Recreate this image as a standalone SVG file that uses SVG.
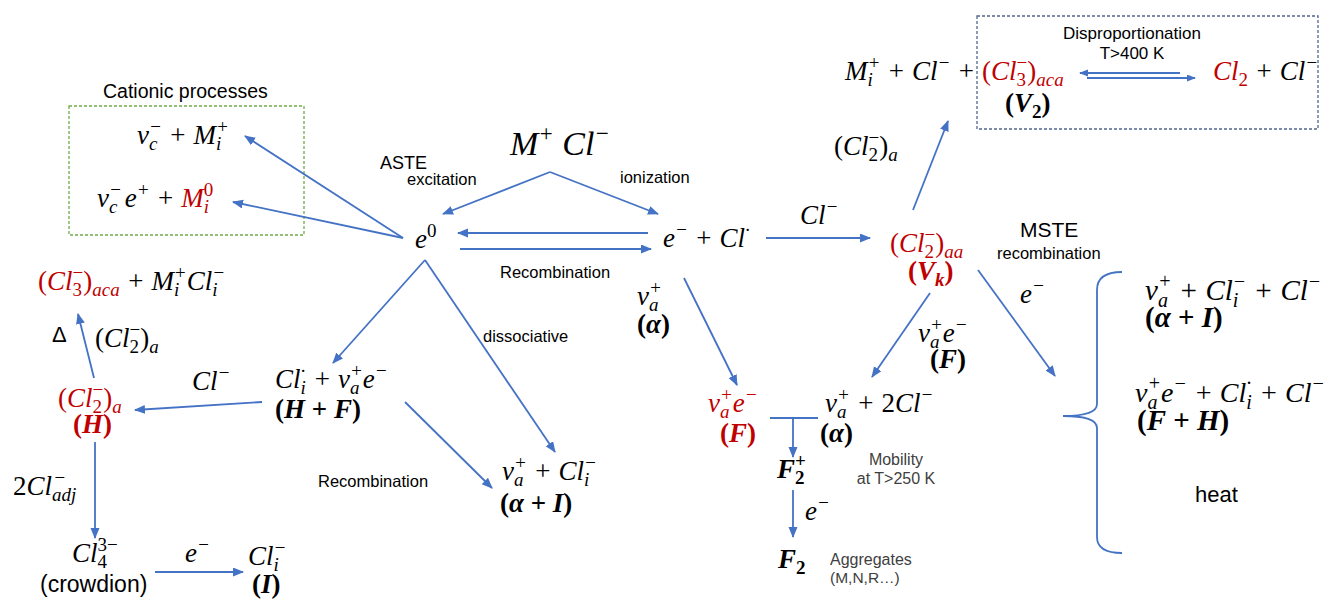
<svg xmlns="http://www.w3.org/2000/svg" width="1329" height="601" viewBox="0 0 1329 601">
<style>
.m{font-family:"Liberation Serif","DejaVu Serif",serif;font-style:italic;font-size:27px;fill:#000}
.big{font-size:34px}
.lg{font-size:29px}
.r{fill:#C00000}
.u{font-style:normal}
.b{font-weight:bold}
.sb{font-size:19px;baseline-shift:-6px}
.sp{font-size:19px;baseline-shift:11px}
.lg .sb{font-size:20px;baseline-shift:-7px}
.lg .sp{font-size:20px;baseline-shift:12px}
.big .sp{font-size:23px;baseline-shift:14px}
.s{font-family:"Liberation Sans",Arial,sans-serif;fill:#000}
.g{fill:#404040}
.c line,.c path{stroke:#4472C4;stroke-width:1.8;fill:none}
.box{fill:none;stroke-width:1.3}
</style>
<defs>
<marker id="ah" markerUnits="userSpaceOnUse" markerWidth="12" markerHeight="10" refX="10" refY="4.5" orient="auto"><path d="M0,0 L11,4.5 L0,9 z" fill="#4472C4"/></marker>
<marker id="ahs" markerUnits="userSpaceOnUse" markerWidth="10" markerHeight="8" refX="8" refY="3.5" orient="auto"><path d="M0,0 L9,3.5 L0,7 z" fill="#4472C4"/></marker>
</defs>

<g id="cationic">
<rect class="box" x="69" y="106" width="235" height="129" stroke="#70AD47" stroke-dasharray="3,2"/>
<text class="s" x="103" y="98" font-size="19.5">Cationic processes</text>
</g>
<g id="n-vcM"><text class="m" x="137" y="144">v<tspan class="sb">c</tspan><tspan class="sp" dx="-8.5">−</tspan> + M<tspan class="sb">i</tspan><tspan class="sp" dx="-5.3">+</tspan></text></g>
<g id="n-vceM0"><text class="m" x="97" y="207">v<tspan class="sb">c</tspan><tspan class="sp" dx="-8.5">−</tspan><tspan dx="3">e</tspan><tspan class="sp">+</tspan> + <tspan class="r">M</tspan><tspan class="sb r">i</tspan><tspan class="sp r u" dx="-5.3">0</tspan></text></g>

<g id="n-MCl"><text class="m big" x="510" y="155">M<tspan class="sp">+</tspan> Cl<tspan class="sp">−</tspan></text></g>
<g id="lbl-aste"><text class="s" x="380" y="169" font-size="18">ASTE</text><text class="s" x="407" y="185" font-size="16.5">excitation</text></g>
<g id="lbl-ion"><text class="s" x="620" y="183" font-size="16.5">ionization</text></g>
<g id="n-e0"><text class="m" x="415" y="248">e<tspan class="sp u">0</tspan></text></g>
<g id="lbl-rec1"><text class="s" x="500" y="278" font-size="16.5">Recombination</text></g>
<g id="n-eCl"><text class="m" x="663" y="247">e<tspan class="sp">−</tspan> + Cl<tspan class="sp">·</tspan></text></g>
<g id="lbl-cl1"><text class="m" x="800" y="224">Cl<tspan class="sp">−</tspan></text></g>
<g id="n-Vk">
<text class="m r" x="890" y="252"><tspan class="u">(</tspan>Cl<tspan class="sb u">2</tspan><tspan class="sp u" dx="-9.5">−</tspan><tspan class="u">)</tspan><tspan class="sb">aa</tspan></text>
<text class="m r b" x="908" y="280"><tspan class="u">(</tspan>V<tspan class="sb">k</tspan><tspan class="u">)</tspan></text>
</g>
<g id="lbl-cl2a"><text class="m" x="834" y="155"><tspan class="u">(</tspan>Cl<tspan class="sb u">2</tspan><tspan class="sp u" dx="-9.5">−</tspan><tspan class="u">)</tspan><tspan class="sb">a</tspan></text></g>

<g id="n-V2">
<rect class="box" x="977" y="16" width="341" height="113" stroke="#52658C" stroke-dasharray="3,2"/>
<text class="m" x="845" y="80">M<tspan class="sb">i</tspan><tspan class="sp" dx="-5.3">+</tspan> + Cl<tspan class="sp">−</tspan> + <tspan class="r"><tspan class="u">(</tspan>Cl<tspan class="sb u">3</tspan><tspan class="sp u" dx="-9.5">−</tspan><tspan class="u">)</tspan><tspan class="sb">aca</tspan></tspan></text>
<text class="m b" x="1005" y="112"><tspan class="u">(</tspan>V<tspan class="sb u">2</tspan><tspan class="u">)</tspan></text>
<text class="s" x="1132" y="39" font-size="17" text-anchor="middle">Disproportionation</text>
<text class="s" x="1132" y="59" font-size="17" text-anchor="middle">T&gt;400 K</text>
</g>
<g id="n-Cl2"><text class="m" x="1213" y="80"><tspan class="r">Cl<tspan class="sb u">2</tspan></tspan> + Cl<tspan class="sp">−</tspan></text></g>

<g id="lbl-mste"><text class="s" x="1020" y="237" font-size="21">MSTE</text><text class="s" x="997" y="259" font-size="16.5">recombination</text></g>
<g id="lbl-e3"><text class="m" x="1020" y="303">e<tspan class="sp">−</tspan></text></g>
<g id="n-r1">
<text class="m lg" x="1145" y="300">v<tspan class="sb">a</tspan><tspan class="sp" dx="-10">+</tspan> + Cl<tspan class="sb">i</tspan><tspan class="sp" dx="-5.6">−</tspan> + Cl<tspan class="sp">−</tspan></text>
<text class="m b lg" x="1145" y="327"><tspan class="u">(</tspan>α<tspan class="u"> + </tspan>I<tspan class="u">)</tspan></text>
</g>
<g id="n-r2">
<text class="m lg" x="1135" y="402" style="font-size:28px">v<tspan class="sb">a</tspan><tspan class="sp" dx="-10">+</tspan>e<tspan class="sp">−</tspan> + Cl<tspan class="sb">i</tspan><tspan class="sp" dx="-5.6">·</tspan><tspan dx="1"> + </tspan>Cl<tspan class="sp">−</tspan></text>
<text class="m b lg" x="1137" y="430"><tspan class="u">(</tspan>F<tspan class="u"> + </tspan>H<tspan class="u">)</tspan></text>
</g>
<g id="n-heat"><text class="s" x="1195" y="502" font-size="22">heat</text></g>

<g id="lbl-va"><text class="m" x="637" y="305">v<tspan class="sb">a</tspan><tspan class="sp" dx="-9.5">+</tspan></text><text class="m b" x="637" y="333"><tspan class="u">(</tspan>α<tspan class="u">)</tspan></text></g>
<g id="n-F">
<text class="m r" x="708" y="412">v<tspan class="sb">a</tspan><tspan class="sp" dx="-9.5">+</tspan>e<tspan class="sp">−</tspan></text>
<text class="m r b" x="720" y="442"><tspan class="u">(</tspan>F<tspan class="u">)</tspan></text>
</g>
<g id="n-alpha">
<text class="m" x="825" y="412">v<tspan class="sb">a</tspan><tspan class="sp" dx="-9.5">+</tspan> + <tspan class="u">2</tspan>Cl<tspan class="sp">−</tspan></text>
<text class="m b" x="820" y="442"><tspan class="u">(</tspan>α<tspan class="u">)</tspan></text>
</g>
<g id="lbl-vaeF"><text class="m" x="918" y="342">v<tspan class="sb">a</tspan><tspan class="sp" dx="-9.5">+</tspan>e<tspan class="sp">−</tspan></text><text class="m b" x="930" y="368"><tspan class="u">(</tspan>F<tspan class="u">)</tspan></text></g>
<g id="n-F2p"><text class="m b" x="777" y="478">F<tspan class="sb u">2</tspan><tspan class="sp u" dx="-9.5">+</tspan></text></g>
<g id="lbl-e4"><text class="m" x="805" y="520">e<tspan class="sp">−</tspan></text></g>
<g id="n-F2"><text class="m b" x="778" y="568">F<tspan class="sb u">2</tspan></text></g>
<g id="lbl-mob"><text class="s g" x="896" y="465" font-size="16" text-anchor="middle">Mobility</text><text class="s g" x="896" y="484" font-size="16" text-anchor="middle">at T&gt;250 K</text></g>
<g id="lbl-agg"><text class="s g" x="830" y="565" font-size="16">Aggregates</text><text class="s g" x="830" y="583" font-size="15.5">(M,N,R…)</text></g>

<g id="n-Cl3M"><text class="m" x="38" y="290"><tspan class="r"><tspan class="u">(</tspan>Cl<tspan class="sb u">3</tspan><tspan class="sp u" dx="-9.5">−</tspan><tspan class="u">)</tspan><tspan class="sb">aca</tspan></tspan> + M<tspan class="sb">i</tspan><tspan class="sp" dx="-5.3">+</tspan>Cl<tspan class="sb">i</tspan><tspan class="sp" dx="-5.3">−</tspan></text></g>
<g id="lbl-delta"><text class="s" x="52" y="342" font-size="22">Δ</text><text class="m" x="95" y="347"><tspan class="u">(</tspan>Cl<tspan class="sb u">2</tspan><tspan class="sp u" dx="-9.5">−</tspan><tspan class="u">)</tspan><tspan class="sb">a</tspan></text></g>
<g id="n-H">
<text class="m r" x="58" y="407"><tspan class="u">(</tspan>Cl<tspan class="sb u">2</tspan><tspan class="sp u" dx="-9.5">−</tspan><tspan class="u">)</tspan><tspan class="sb">a</tspan></text>
<text class="m r b" x="73" y="433"><tspan class="u">(</tspan>H<tspan class="u">)</tspan></text>
</g>
<g id="lbl-cl3"><text class="m" x="192" y="390">Cl<tspan class="sp">−</tspan></text></g>
<g id="lbl-adj"><text class="m" x="13" y="495"><tspan class="u">2</tspan>Cl<tspan class="sb">adj</tspan><tspan class="sp" dx="-23">−</tspan></text></g>
<g id="n-crowd"><text class="m" x="72" y="562">Cl<tspan class="sb u">4</tspan><tspan class="sp u" dx="-9.5">3−</tspan></text><text class="s" x="40" y="592" font-size="23">(crowdion)</text></g>
<g id="lbl-e5"><text class="m" x="185" y="562">e<tspan class="sp">−</tspan></text></g>
<g id="n-I"><text class="m" x="248" y="565">Cl<tspan class="sb">i</tspan><tspan class="sp" dx="-5.3">−</tspan></text><text class="m b" x="252" y="593"><tspan class="u">(</tspan>I<tspan class="u">)</tspan></text></g>
<g id="n-HF">
<text class="m" x="275" y="388">Cl<tspan class="sb">i</tspan><tspan class="sp" dx="-5.3">·</tspan><tspan dx="1"> + </tspan>v<tspan class="sb">a</tspan><tspan class="sp" dx="-9.5">+</tspan>e<tspan class="sp">−</tspan></text>
<text class="m b" x="275" y="418"><tspan class="u">(</tspan>H<tspan class="u"> + </tspan>F<tspan class="u">)</tspan></text>
</g>
<g id="lbl-diss"><text class="s" x="483" y="342" font-size="16.5">dissociative</text></g>
<g id="lbl-rec2"><text class="s" x="318" y="487" font-size="16.5">Recombination</text></g>
<g id="n-aI">
<text class="m" x="502" y="480">v<tspan class="sb">a</tspan><tspan class="sp" dx="-9.5">+</tspan> + Cl<tspan class="sb">i</tspan><tspan class="sp" dx="-5.3">−</tspan></text>
<text class="m b" x="500" y="512"><tspan class="u">(</tspan>α<tspan class="u"> + </tspan>I<tspan class="u">)</tspan></text>
</g>

<g id="connectors" class="c">
<line x1="403" y1="238" x2="245" y2="136" marker-end="url(#ah)"/>
<line x1="403" y1="238" x2="233" y2="202" marker-end="url(#ah)"/>
<line x1="550" y1="172" x2="443" y2="214" marker-end="url(#ah)"/>
<line x1="550" y1="172" x2="658" y2="214" marker-end="url(#ah)"/>
<line x1="648" y1="233" x2="458" y2="233" marker-end="url(#ah)"/>
<line x1="460" y1="249" x2="651" y2="249" marker-end="url(#ah)"/>
<line x1="766" y1="238" x2="870" y2="238" marker-end="url(#ah)"/>
<line x1="913" y1="210" x2="948" y2="121" marker-end="url(#ah)"/>
<line x1="978" y1="270" x2="1055" y2="376" marker-end="url(#ah)"/>
<path d="M1122,272 Q1097,272 1097,290 L1097,404 Q1097,416 1063,416 Q1097,416 1097,428 L1097,537 Q1097,553 1122,553"/>
<line x1="930" y1="293" x2="872" y2="377" marker-end="url(#ah)"/>
<line x1="684" y1="278" x2="737" y2="385" marker-end="url(#ah)"/>
<line x1="770" y1="418" x2="818" y2="418"/>
<line x1="793" y1="418" x2="793" y2="457" marker-end="url(#ah)"/>
<line x1="793" y1="490" x2="793" y2="537" marker-end="url(#ah)"/>
<line x1="94" y1="378" x2="78" y2="314" marker-end="url(#ah)"/>
<line x1="262" y1="402" x2="135" y2="410" marker-end="url(#ah)"/>
<line x1="95" y1="442" x2="95" y2="538" marker-end="url(#ah)"/>
<line x1="155" y1="572" x2="243" y2="572" marker-end="url(#ah)"/>
<line x1="425" y1="260" x2="333" y2="363" marker-end="url(#ah)"/>
<line x1="425" y1="260" x2="555" y2="452" marker-end="url(#ah)"/>
<line x1="405" y1="402" x2="492" y2="488" marker-end="url(#ah)"/>
<line x1="1180" y1="73" x2="1080" y2="73" marker-end="url(#ahs)"/>
<line x1="1087" y1="78" x2="1195" y2="78" marker-end="url(#ahs)"/>
</g>
</svg>
